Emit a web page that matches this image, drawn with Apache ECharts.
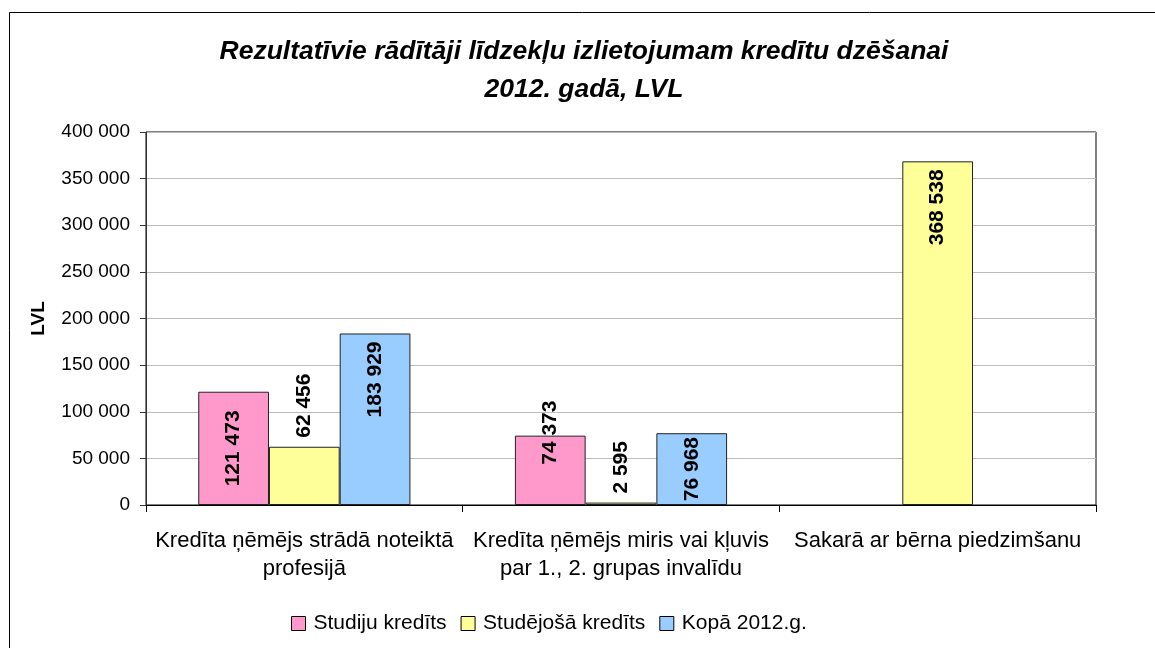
<!DOCTYPE html>
<html><head><meta charset="utf-8">
<script src="https://cdn.jsdelivr.net/npm/echarts@6/dist/echarts.min.js"></script>
<style>html,body{margin:0;padding:0;background:#fff}#c{width:1155px;height:648px}</style>
</head><body><div id="c"></div>
<script>
const categories = ["Kredīta ņēmējs strādā noteiktā\nprofesijā", "Kredīta ņēmējs miris vai kļuvis\npar 1., 2. grupas invalīdu", "Sakarā ar bērna piedzimšanu"];
const studiju = [121473, 74373, null];
const studejosa = [62456, 2595, 368538];
const kopa = [183929, 76968, null];
const yTicks = [0, 50000, 100000, 150000, 200000, 250000, 300000, 350000, 400000];
// label placement modes per bar (presentation only)
const labelModesStudiju = ['inside', 'topCenter', 'inside'];
const labelModesStudejosa = ['top', 'top', 'insideTop'];
const labelModesKopa = ['insideTop', 'inside', 'inside'];

const fontFam = '"Liberation Sans", Arial, sans-serif';
function fmt(v){ return String(Math.round(v)).replace(/\B(?=(\d{3})+(?!\d))/g, ' '); }
function labelFor(mode){
  const base = {show:true, rotate:90, color:'#000', fontFamily:fontFam, fontWeight:'bold', fontSize:21,
    formatter: p => fmt(p.value)};
  if (mode === 'inside') return Object.assign(base, {position:'inside', align:'center', verticalAlign:'middle'});
  if (mode === 'insideTop') return Object.assign(base, {position:'insideTop', align:'right', verticalAlign:'middle', distance:8});
  if (mode === 'top') return Object.assign(base, {position:'top', align:'left', verticalAlign:'middle', distance:9});
  if (mode === 'topCenter') return Object.assign(base, {position:'top', align:'center', verticalAlign:'middle', distance:3});
  return base;
}
function buildData(values, modes){
  return values.map((v,i) => v == null ? null : {value:v, label:labelFor(modes[i])});
}
const colors = ['#FF99CC', '#FFFF99', '#99CCFF'];
const names = ['Studiju kredīts', 'Studējošā kredīts', 'Kopā 2012.g.'];
const seriesVals = [studiju, studejosa, kopa];
const seriesModes = [labelModesStudiju, labelModesStudejosa, labelModesKopa];

const chart = echarts.init(document.getElementById('c'));
chart.setOption({
  animation:false,
  backgroundColor:'#fff',
  textStyle:{fontFamily:fontFam},
  graphic:[{type:'rect', shape:{x:9.5, y:12.5, width:1160, height:660}, style:{fill:'none', stroke:'#000', lineWidth:1}}],
  title:{
    text:'Rezultatīvie rādītāji līdzekļu izlietojumam kredītu dzēšanai\n2012. gadā, LVL',
    left:579, textAlign:'center', top:28,
    textStyle:{fontFamily:fontFam, fontStyle:'italic', fontWeight:'bold', fontSize:26.5, lineHeight:38, color:'#000'}
  },
  legend:{
    top:613, left:291, padding:0, itemWidth:14, itemHeight:14, itemGap:14,
    icon:'rect',
    textStyle:{fontFamily:fontFam, fontSize:21, color:'#000', padding:[0,0,0,3]},
    itemStyle:{borderColor:'#000', borderWidth:1}
  },
  grid:{left:146, right:59, top:132, bottom:143, show:true, borderColor:'#000', borderWidth:1, containLabel:false},
  xAxis:{
    type:'category', data:categories,
    axisLine:{lineStyle:{color:'#000', width:1}},
    axisTick:{show:true, length:7, lineStyle:{color:'#000'}},
    axisLabel:{color:'#000', fontSize:22, fontFamily:fontFam, lineHeight:28, margin:22, interval:0, hideOverlap:false}
  },
  yAxis:{
    type:'value', min:0, max:400000, interval:50000,
    name:'LVL', nameLocation:'middle', nameGap:98, nameRotate:90,
    nameTextStyle:{fontFamily:fontFam, fontWeight:'bold', fontSize:19, color:'#000'},
    axisLine:{show:true, lineStyle:{color:'#333', width:1}},
    axisTick:{show:true, length:6, lineStyle:{color:'#333'}},
    axisLabel:{color:'#000', fontSize:19, fontFamily:fontFam, margin:16, formatter:v=>fmt(v)},
    splitLine:{lineStyle:{color:'#bbb', width:1}}
  },
  series: seriesVals.map((vals,k)=>({
    type:'bar', name:names[k], data:buildData(vals, seriesModes[k]),
    barGap:'0%', barCategoryGap:'33%',
    itemStyle:{color:colors[k], borderColor:'#222', borderWidth:1}
  }))
});
</script></body></html>
